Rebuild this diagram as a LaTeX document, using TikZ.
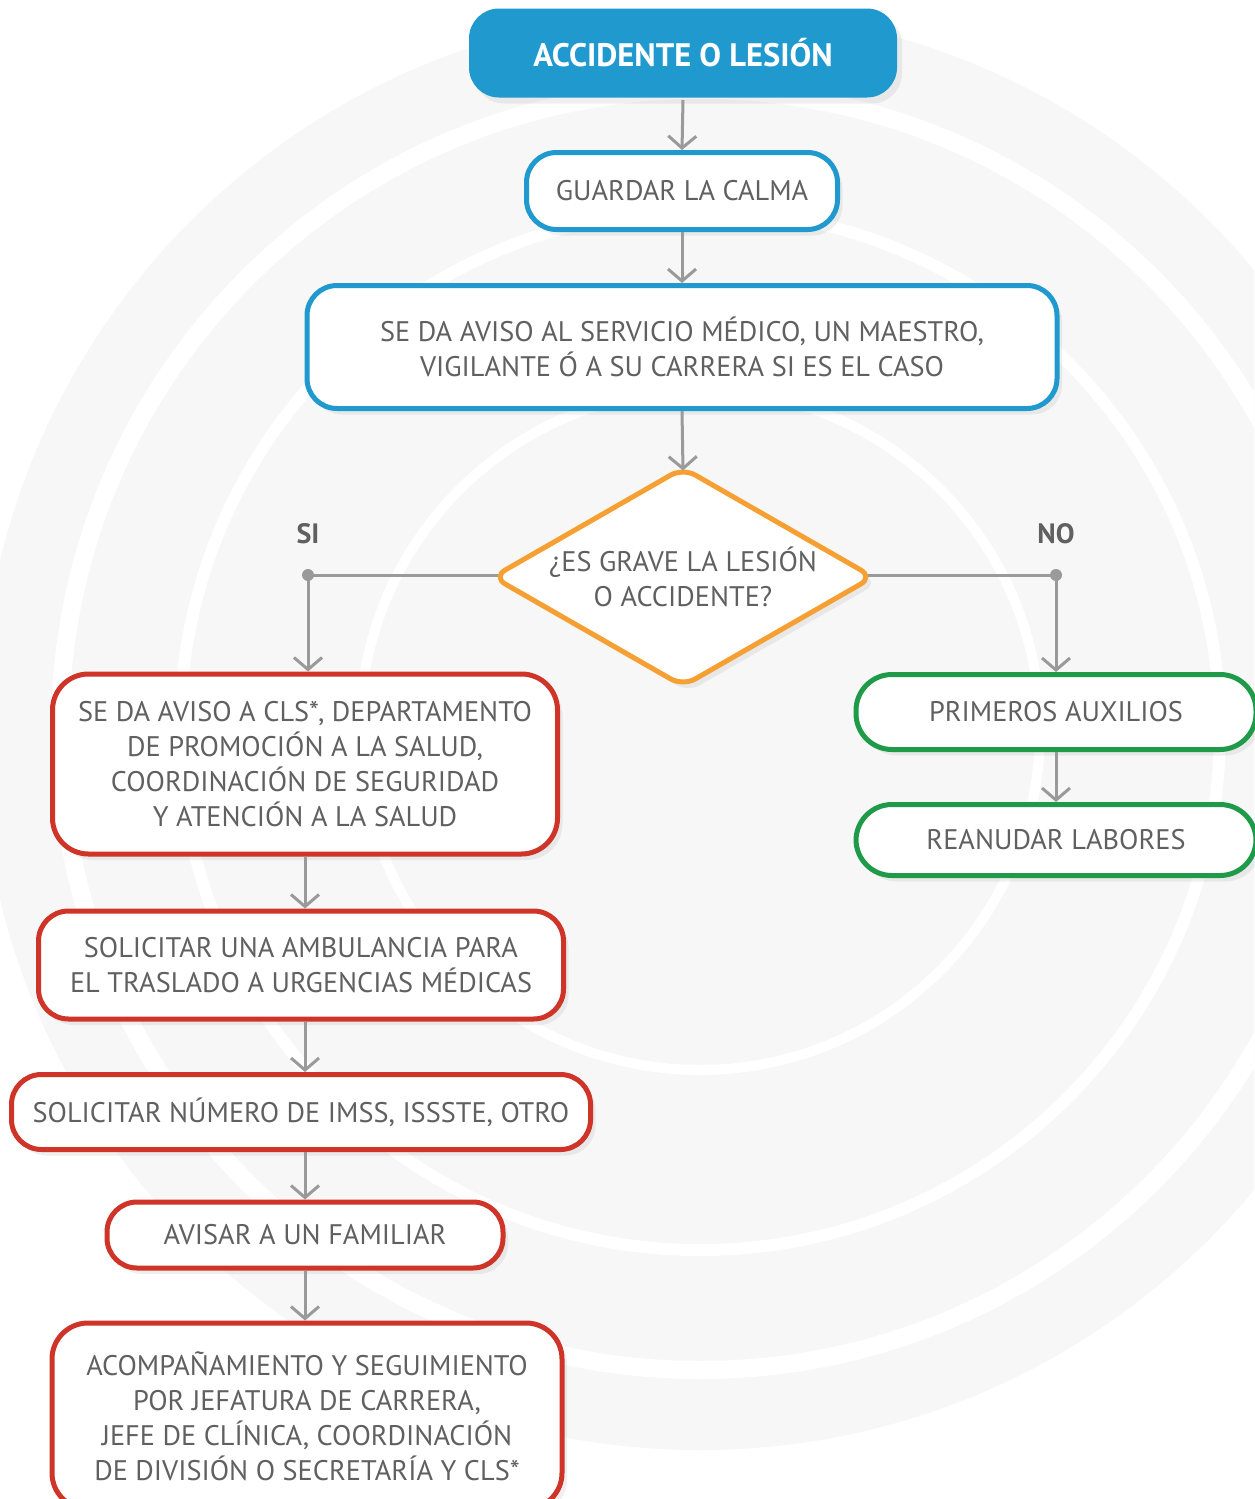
\documentclass[tikz,border=0pt]{standalone}
\usepackage{fontspec}
\setmainfont{PT Sans}
\usetikzlibrary{arrows.meta,shapes.geometric,shadows,calc}
\pgfdeclarelayer{bglayer}
\pgfdeclarelayer{background}
\pgfsetlayers{bglayer,background,main}
\definecolor{cblue}{HTML}{2099CF}
\definecolor{cred}{HTML}{CF3429}
\definecolor{cgreen}{HTML}{1E9A48}
\definecolor{corange}{HTML}{F6A033}
\definecolor{txt}{HTML}{606060}
\definecolor{carrow}{HTML}{9A9A9A}
\definecolor{bgg}{HTML}{F7F7F7}
\tikzset{
 shadowed/.style={drop shadow={opacity=0.12,shadow xshift=5pt,shadow yshift=-6pt}},
 base/.style={rounded corners=30pt, line width=5pt, fill=white, text=txt,
   font=\fontsize{28.3}{35}\selectfont, align=center, inner sep=0pt, shadowed},
 bluebox/.style={base, draw=cblue},
 redbox/.style={base, draw=cred},
 greenbox/.style={base, draw=cgreen, rounded corners=36pt},
 arr/.style={draw=carrow, line width=3pt, -{Straight Barb[length=12pt,width=28pt]}},
 plainline/.style={draw=carrow, line width=3pt},
 lbl/.style={text=txt, font=\fontsize{28}{34}\selectfont\bfseries},
}
\begin{document}
\begin{tikzpicture}[x=1pt,y=-1pt]
\useasboundingbox (0,0) rectangle (1254,1499);
\begin{pgfonlayer}{bglayer}
\fill[white] (0,0) rectangle (1254,1499);
\begin{scope}
\clip (0,0) rectangle (1254,1499);
\fill[bgg] (700,730) circle (720);
\draw[white,line width=18pt] (700,730) circle (640);
\draw[white,line width=12pt] (700,730) circle (520);
\draw[white,line width=10pt] (700,730) circle (340);
\end{scope}
\end{pgfonlayer}

% nodes
\node[base, draw=none, fill=cblue, text=white, minimum width=428pt, minimum height=89pt,
      font=\fontsize{32.5}{36}\selectfont\bfseries] (top) at (683,53) {ACCIDENTE O LESIÓN};
\node[bluebox, minimum width=311pt, minimum height=77pt] (calma) at (682,191) {GUARDAR LA CALMA};
\node[bluebox, minimum width=750pt, minimum height=123pt] (aviso) at (682,347)
  {SE DA AVISO AL SERVICIO MÉDICO, UN MAESTRO,\\VIGILANTE Ó A SU CARRERA SI ES EL CASO};
\node[diamond, draw=corange, line width=5pt, fill=white, rounded corners=14pt, text=txt,
      font=\fontsize{28.3}{35}\selectfont, align=center, inner sep=0pt,
      minimum width=382pt, minimum height=220pt, aspect=1.74, shadowed] (dec) at (683,577)
  {¿ES GRAVE LA LESIÓN\\O ACCIDENTE?};

\node[redbox, rounded corners=36pt, minimum width=505pt, minimum height=180pt] (r1) at (305,764)
  {SE DA AVISO A CLS*, DEPARTAMENTO\\DE PROMOCIÓN A LA SALUD,\\COORDINACIÓN DE SEGURIDAD\\Y ATENCIÓN A LA SALUD};
\node[redbox, minimum width=525pt, minimum height=108pt] (r2) at (301,965)
  {SOLICITAR UNA AMBULANCIA PARA\\EL TRASLADO A URGENCIAS MÉDICAS};
\node[redbox, minimum width=579pt, minimum height=75pt] (r3) at (301,1112)
  {SOLICITAR NÚMERO DE IMSS, ISSSTE, OTRO};
\node[redbox, minimum width=396pt, minimum height=66pt] (r4) at (305,1235)
  {AVISAR A UN FAMILIAR};
\node[redbox, rounded corners=36pt, minimum width=510pt, minimum height=186pt] (r5) at (307,1416)
  {ACOMPAÑAMIENTO Y SEGUIMIENTO\\POR JEFATURA DE CARRERA,\\JEFE DE CLÍNICA, COORDINACIÓN\\DE DIVISIÓN O SECRETARÍA Y CLS*};

\node[greenbox, minimum width=400pt, minimum height=75pt] (g1) at (1056,712) {PRIMEROS AUXILIOS};
\node[greenbox, minimum width=400pt, minimum height=71pt] (g2) at (1056,840) {REANUDAR LABORES};

% labels and junction points
\coordinate (jsi) at (308,575);
\coordinate (jno) at (1056,575);
\node[lbl] (si) at (308,534) {SI};
\node[lbl] (no) at (1056,534) {NO};

% connectors
\draw[arr] (top.south) -- (calma.north);
\draw[arr] (calma.south) -- (aviso.north);
\draw[arr] (aviso.south) -- ($(dec.north)+(0,6)$);
\begin{pgfonlayer}{background}
\draw[plainline] ($(dec.west)+(30,-2)$) -- (jsi);
\draw[plainline] ($(dec.east)-(30,2)$) -- (jno);
\end{pgfonlayer}
\draw[arr] (jsi) -- (jsi |- r1.north);
\draw[arr] (jno) -- (jno |- g1.north);
\fill[carrow] (jsi) circle (6pt);
\fill[carrow] (jno) circle (6pt);
\draw[arr] (r1.south) -- (r1.south |- r2.north);
\draw[arr] (r1.south |- r2.south) -- (r1.south |- r3.north);
\draw[arr] (r1.south |- r3.south) -- (r1.south |- r4.north);
\draw[arr] (r4.south) -- (r4.south |- r5.north);
\draw[arr] (g1.south) -- (g2.north);
\end{tikzpicture}
\end{document}
